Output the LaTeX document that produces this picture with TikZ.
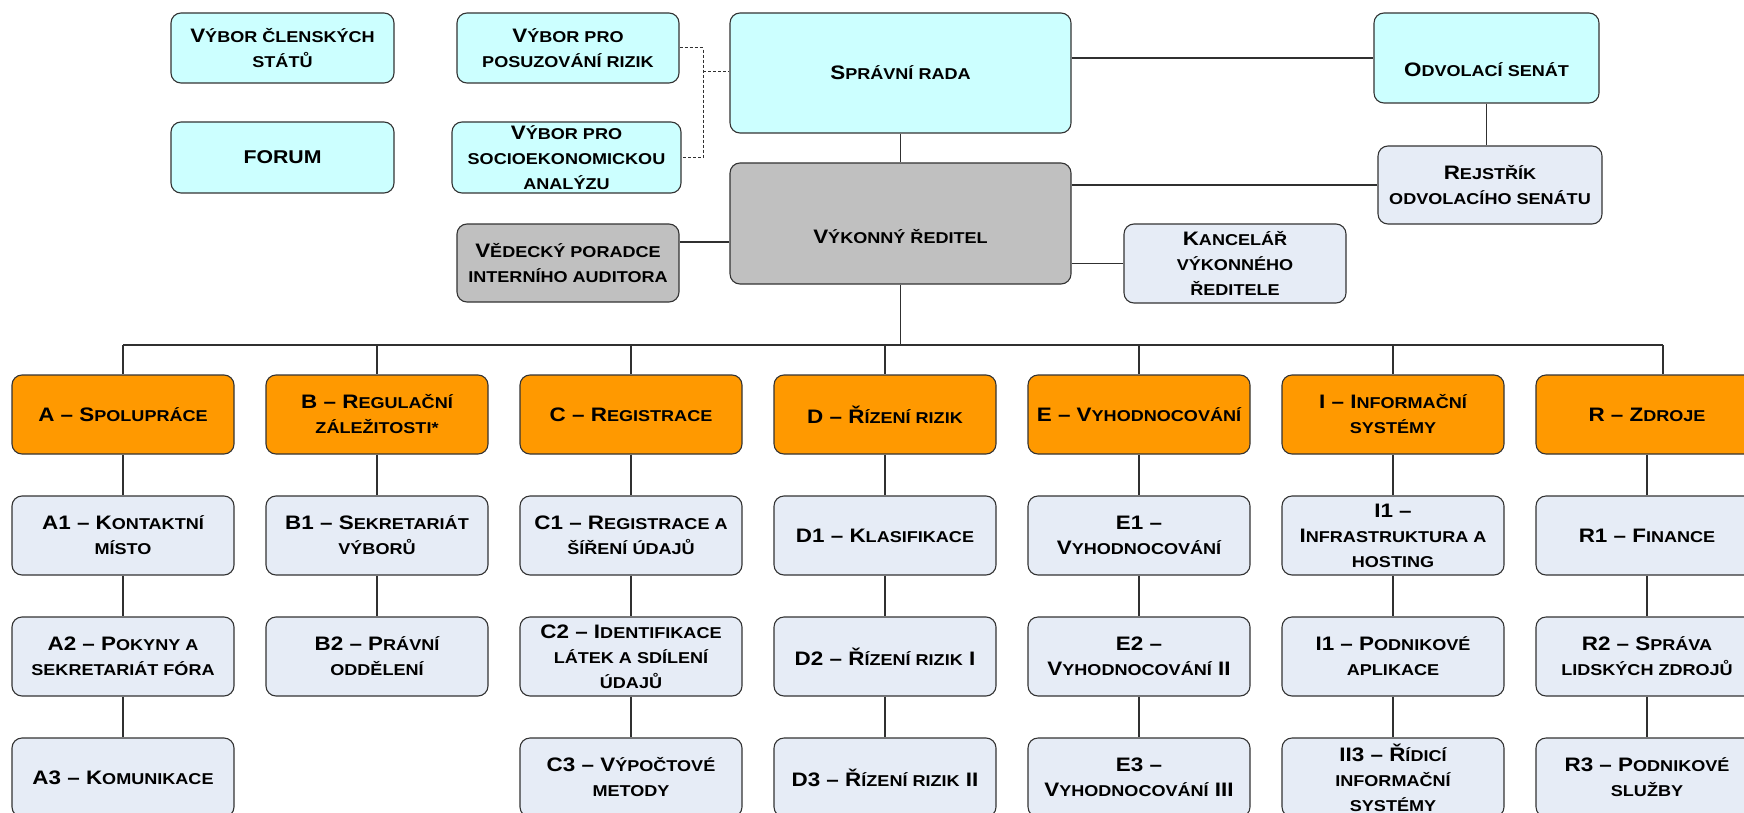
\documentclass[tikz,border=0pt]{standalone}
\usepackage{fontspec}
\setmainfont{Liberation Sans}[FakeStretch=1.15]
\newcommand\smc[1]{{\fontsize{15.7pt}{25pt}\selectfont #1}}
\definecolor{cyanfill}{HTML}{CCFFFF}
\definecolor{lightfill}{HTML}{E6ECF6}
\definecolor{greyfill}{HTML}{C0C0C0}
\definecolor{orangefill}{HTML}{FF9900}
\definecolor{edge}{HTML}{333333}
\definecolor{wire}{HTML}{303030}
\begin{document}
\begin{tikzpicture}[x=1pt,y=-1pt,
  boxfont/.style={font=\bfseries\fontsize{19.5pt}{25pt}\selectfont},
  box/.style={draw=edge, line width=1.1pt, rounded corners=10pt, align=center, inner sep=2pt, boxfont},
  cyanbox/.style={box, fill=cyanfill},
  lightbox/.style={box, fill=lightfill},
  greybox/.style={box, fill=greyfill},
  orangebox/.style={box, fill=orangefill},
  colbox/.style={minimum width=222pt, minimum height=79pt},
  lbl/.style={boxfont, align=center, inner sep=0pt},
  wireline/.style={draw=wire, line width=1.1pt},
  dashline/.style={draw=wire, line width=1pt, dash pattern=on 3pt off 2pt}
]
\useasboundingbox (0,0) rectangle (1744,813);

% upper part
\node[cyanbox, minimum width=223pt, minimum height=70pt] (vcs) at (282.5,48) {V\smc{ÝBOR ČLENSKÝCH}\\\smc{STÁTŮ}};
\node[cyanbox, minimum width=223pt, minimum height=71pt, font=\bfseries\fontsize{18.5pt}{22pt}\selectfont] (forum) at (282.5,157.5) {FORUM};
\node[cyanbox, minimum width=222pt, minimum height=70pt] (vpr) at (568,48) {V\smc{ÝBOR PRO}\\\smc{POSUZOVÁNÍ RIZIK}};
\node[cyanbox, minimum width=229pt, minimum height=71pt] (vse) at (566.5,157.5) {V\smc{ÝBOR PRO}\\\smc{SOCIOEKONOMICKOU}\\\smc{ANALÝZU}};
\node[cyanbox, minimum width=341pt, minimum height=120pt] (sr) at (900.5,73) {S\smc{PRÁVNÍ RADA}};
\node[cyanbox, minimum width=225pt, minimum height=90pt,
  label={[lbl, yshift=-12pt]center:{O\smc{DVOLACÍ SENÁT}}}] (os) at (1486.5,58) {};
\node[lightbox, minimum width=224pt, minimum height=78pt] (rej) at (1490,185) {R\smc{EJSTŘÍK}\\\smc{ODVOLACÍHO SENÁTU}};
\node[greybox, minimum width=341pt, minimum height=121pt,
  label={[lbl, yshift=-13pt]center:{V\smc{ÝKONNÝ ŘEDITEL}}}] (vr) at (900.5,223.5) {};
\node[greybox, minimum width=222pt, minimum height=78pt] (ved) at (568,263) {V\smc{ĚDECKÝ PORADCE}\\\smc{INTERNÍHO AUDITORA}};
\node[lightbox, minimum width=222pt, minimum height=79pt] (kan) at (1235,263.5) {K\smc{ANCELÁŘ}\\\smc{VÝKONNÉHO}\\\smc{ŘEDITELE}};

% upper connectors
\draw[wireline] (sr.east |- os.west) -- (os.west);
\draw[wireline] (os.south) -- (os.south |- rej.north);
\draw[wireline] (sr.south) -- (vr.north);
\draw[wireline] (vr.east |- rej.west) -- (rej.west);
\draw[wireline] (vr.east |- kan.west) -- (kan.west);
\draw[wireline] ([yshift=21pt]ved.east) -- ([yshift=21pt]ved.east -| vr.west);
\coordinate (dj) at (703,72);
\draw[dashline] (vpr.east) -| (dj) |- (vse.east);
\draw[dashline] (dj) -- (dj -| sr.west);

% divisions
\node[orangebox, colbox] (A) at (123,414.5) {A – S\smc{POLUPRÁCE}};
\node[orangebox, colbox] (B) at (377,414.5) {B – R\smc{EGULAČNÍ}\\\smc{ZÁLEŽITOSTI*}};
\node[orangebox, colbox] (C) at (631,414.5) {C – R\smc{EGISTRACE}};
\node[orangebox, colbox] (D) at (885,414.5) {D – Ř\smc{ÍZENÍ RIZIK}};
\node[orangebox, colbox] (E) at (1139,414.5) {E – V\smc{YHODNOCOVÁNÍ}};
\node[orangebox, colbox] (I) at (1393,414.5) {I – I\smc{NFORMAČNÍ}\\\smc{SYSTÉMY}};
\node[orangebox, colbox] (R) at (1647,414.5) {R – Z\smc{DROJE}};

% units
\node[lightbox, colbox] (A1) at (123,535.5) {A1 – K\smc{ONTAKTNÍ}\\\smc{MÍSTO}};
\node[lightbox, colbox] (A2) at (123,656.5) {A2 – P\smc{OKYNY A}\\\smc{SEKRETARIÁT FÓRA}};
\node[lightbox, colbox] (A3) at (123,777.5) {A3 – K\smc{OMUNIKACE}};
\node[lightbox, colbox] (B1) at (377,535.5) {B1 – S\smc{EKRETARIÁT}\\\smc{VÝBORŮ}};
\node[lightbox, colbox] (B2) at (377,656.5) {B2 – P\smc{RÁVNÍ}\\\smc{ODDĚLENÍ}};
\node[lightbox, colbox] (C1) at (631,535.5) {C1 – R\smc{EGISTRACE A}\\\smc{ŠÍŘENÍ ÚDAJŮ}};
\node[lightbox, colbox] (C2) at (631,656.5) {C2 – I\smc{DENTIFIKACE}\\\smc{LÁTEK A SDÍLENÍ}\\\smc{ÚDAJŮ}};
\node[lightbox, colbox] (C3) at (631,777.5) {C3 – V\smc{ÝPOČTOVÉ}\\\smc{METODY}};
\node[lightbox, colbox] (D1) at (885,535.5) {D1 – K\smc{LASIFIKACE}};
\node[lightbox, colbox] (D2) at (885,656.5) {D2 – Ř\smc{ÍZENÍ RIZIK} I};
\node[lightbox, colbox] (D3) at (885,777.5) {D3 – Ř\smc{ÍZENÍ RIZIK} II};
\node[lightbox, colbox] (E1) at (1139,535.5) {E1 –\\V\smc{YHODNOCOVÁNÍ}};
\node[lightbox, colbox] (E2) at (1139,656.5) {E2 –\\V\smc{YHODNOCOVÁNÍ} II};
\node[lightbox, colbox] (E3) at (1139,777.5) {E3 –\\V\smc{YHODNOCOVÁNÍ} III};
\node[lightbox, colbox] (I1) at (1393,535.5) {I1 –\\I\smc{NFRASTRUKTURA A}\\\smc{HOSTING}};
\node[lightbox, colbox] (I2) at (1393,656.5) {I1 – P\smc{ODNIKOVÉ}\\\smc{APLIKACE}};
\node[lightbox, colbox] (I3) at (1393,777.5) {II3 – Ř\smc{ÍDICÍ}\\\smc{INFORMAČNÍ}\\\smc{SYSTÉMY}};
\node[lightbox, colbox] (R1) at (1647,535.5) {R1 – F\smc{INANCE}};
\node[lightbox, colbox] (R2) at (1647,656.5) {R2 – S\smc{PRÁVA}\\\smc{LIDSKÝCH ZDROJŮ}};
\node[lightbox, colbox] (R3) at (1647,777.5) {R3 – P\smc{ODNIKOVÉ}\\\smc{SLUŽBY}};

% bus
\coordinate (busL) at (123,345);
\coordinate (busR) at (1663,345);
\draw[wireline] (vr.south) -- (vr.south |- busL);
\draw[wireline] (busL) -- (busR);
\foreach \n in {A,B,C,D,E,I} {\draw[wireline] (\n.north |- busL) -- (\n.north);}
\draw[wireline] (busR) -- (busR |- R.north);

% column connectors
\foreach \c in {A,C,D,E,I,R} {
  \draw[wireline] (\c.south) -- (\c1.north);
  \draw[wireline] (\c1.south) -- (\c2.north);
  \draw[wireline] (\c2.south) -- (\c3.north);
}
\draw[wireline] (B.south) -- (B1.north);
\draw[wireline] (B1.south) -- (B2.north);
\end{tikzpicture}
\end{document}
